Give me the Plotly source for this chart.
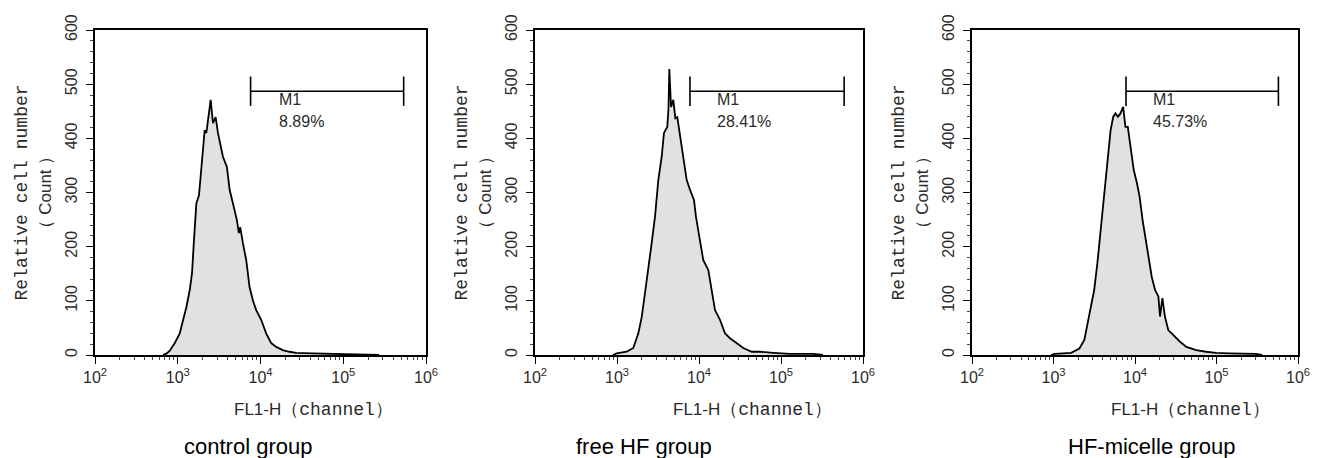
import numpy as np
import plotly.graph_objects as go

# ---------------- data ----------------
groups = ["control group", "free HF group", "HF-micelle group"]
m1_percent = ["8.89%", "28.41%", "45.73%"]

control_fl1 = [665, 736, 801, 920, 1057, 1159, 1274, 1396, 1487, 1571, 1679, 1806, 1930,
               2018, 2115, 2217, 2319, 2498, 2663, 2870, 3061, 3517, 3928, 4236, 4639,
               5180, 5478, 5690, 6120, 6725, 7368, 8075, 8870, 10190, 11710, 13460, 15460,
               18570, 22340, 26900, 42400, 67700, 143600, 271600]
control_count = [0, 3, 8, 22, 40, 65, 89, 120, 151, 212, 280, 295, 342,
                 378, 415, 410, 434, 471, 428, 439, 410, 366, 347, 305, 280,
                 249, 225, 236, 207, 175, 126, 101, 83, 65, 40, 22, 15,
                 9, 6, 4, 3, 2, 1, 0]

freehf_fl1 = [890, 991, 1312, 1581, 1820, 2001, 2194, 2409, 2649, 2905, 3191, 3508, 3741,
              4105, 4246, 4345, 4561, 4864, 5144, 5436, 5980, 6436, 7078, 7766, 8690,
              9190, 10280, 11280, 12980, 14280, 15670, 18030, 20740, 23860, 28820, 34680,
              43930, 55480, 80600, 128800, 247900, 325000]
freehf_count = [0, 3, 6, 13, 40, 70, 114, 157, 207, 255, 323, 366, 410,
                421, 455, 528, 458, 471, 437, 439, 397, 366, 323, 305, 286,
                255, 207, 175, 157, 120, 83, 65, 40, 31, 22, 13,
                6, 6, 4, 2, 2, 0]

micelle_fl1 = [933, 1035, 1644, 2080, 2390, 2746, 3157, 3459, 3795, 4245, 4668, 5020, 5410,
               5770, 6170, 6635, 7155, 7630, 8160, 8775, 9640, 10570, 11400, 12390, 13330,
               14650, 16060, 17620, 19370, 20270, 21670, 23290, 25600, 29420, 35400, 42660,
               56450, 74620, 98600, 142900, 227800, 301400, 363000]
micelle_count = [0, 2, 4, 12, 28, 71, 120, 170, 231, 305, 360, 415, 440,
                 446, 440, 446, 458, 421, 421, 384, 342, 317, 292, 249, 218,
                 181, 144, 120, 108, 71, 105, 71, 46, 37, 25, 15,
                 9, 6, 4, 3, 3, 2, 0]

m1_low = [7590, 7760, 7760]
m1_high = [537000, 589000, 575000]
m1_level = 487
m1_label_x = 15800
m1_label_y = [471, 432]

x_tick_vals = [1e2, 1e3, 1e4, 1e5, 1e6]
x_tick_text = ["10<sup>2</sup>", "10<sup>3</sup>", "10<sup>4</sup>", "10<sup>5</sup>", "10<sup>6</sup>"]
y_tick_vals = [0, 100, 200, 300, 400, 500, 600]

series_x = [control_fl1, freehf_fl1, micelle_fl1]
series_y = [control_count, freehf_count, micelle_count]

# ---------------- layout helpers ----------------
W, H = 1319, 458
OFF = 8  # page body margin in the viewer: convert target page pixels to figure pixels
axis_left_px = [95, 535, 972]
axis_right_px = [426, 863, 1298]
plot_top_px, plot_bottom_px = 30, 355
group_label_cx = [248, 644, 1152]
xtitle_cx = [313, 752, 1190]


def fx(px):
    return (px - OFF) / W


def fy(py):
    return 1 - (py - OFF) / H


SANS = "Liberation Sans, Arial, sans-serif"
MONO = "Liberation Mono, Courier New, monospace"
TXT = "#2a2a2a"

minor_x = [k * 10 ** e for e in range(2, 6) for k in range(2, 10)]
minor_y = [v for v in range(0, 601, 20) if v % 100 != 0]

fig = go.Figure()
layout = dict(width=W, height=H, margin=dict(l=0, r=0, t=0, b=0, pad=0),
              autosize=False, template="none",
              paper_bgcolor="white", plot_bgcolor="white", showlegend=False)

annotations = []
for i in range(3):
    sfx = "" if i == 0 else str(i + 1)
    xa, ya = "x" + sfx, "y" + sfx
    fig.add_trace(go.Scatter(x=series_x[i], y=series_y[i], mode="lines",
                             line=dict(color="black", width=1.8),
                             fill="tozeroy", fillcolor="#e1e1e1",
                             xaxis=xa, yaxis=ya, hoverinfo="skip"))
    # M1 gate bar
    fig.add_trace(go.Scatter(x=[m1_low[i], m1_high[i]], y=[m1_level, m1_level],
                             mode="lines+markers",
                             line=dict(color="black", width=1.4),
                             marker=dict(symbol="line-ns", size=21,
                                         line=dict(color="black", width=1.6)),
                             xaxis=xa, yaxis=ya, hoverinfo="skip"))
    dom_x = [fx(axis_left_px[i]), fx(axis_right_px[i])]
    dom_y = [fy(plot_bottom_px), fy(plot_top_px)]
    layout["xaxis" + sfx] = dict(
        domain=dom_x, anchor=ya, type="log", range=[2, 6], automargin=False,
        tickmode="array", tickvals=x_tick_vals, ticktext=x_tick_text,
        ticks="outside", ticklen=7, tickwidth=1.4, tickcolor="black",
        minor=dict(tickmode="array", tickvals=minor_x, ticks="outside", ticklen=3,
                   tickwidth=1, tickcolor="#444", showgrid=False),
        showline=True, linecolor="black", linewidth=1.8, mirror=True,
        showgrid=False, zeroline=False,
        tickfont=dict(family=SANS, size=16, color=TXT))
    layout["yaxis" + sfx] = dict(
        domain=dom_y, anchor=xa, range=[0, 600], automargin=False,
        tickmode="array", tickvals=y_tick_vals, tickangle=-90, ticklabelstandoff=3,
        ticks="outside", ticklen=7, tickwidth=1.4, tickcolor="black",
        minor=dict(tickmode="array", tickvals=minor_y, ticks="outside", ticklen=3,
                   tickwidth=1, tickcolor="#444", showgrid=False),
        showline=True, linecolor="black", linewidth=1.8, mirror=True,
        showgrid=False, zeroline=False,
        tickfont=dict(family=SANS, size=16, color=TXT))

    # M1 labels
    annotations.append(dict(x=np.log10(m1_label_x), y=m1_label_y[0], xref=xa, yref=ya,
                            text="M1", showarrow=False, xanchor="left", yanchor="middle",
                            font=dict(family=SANS, size=16, color=TXT)))
    annotations.append(dict(x=np.log10(m1_label_x), y=m1_label_y[1], xref=xa, yref=ya,
                            text=m1_percent[i], showarrow=False, xanchor="left", yanchor="middle",
                            font=dict(family=SANS, size=16, color=TXT)))

    cy_px = (plot_top_px + plot_bottom_px) / 2
    # y-axis title (two lines)
    annotations.append(dict(x=fx(axis_left_px[i] - 74), y=fy(cy_px), xref="paper", yref="paper",
                            text="Relative cell number", textangle=-90, showarrow=False,
                            xanchor="center", yanchor="middle",
                            font=dict(family=MONO, size=18, color=TXT)))
    annotations.append(dict(x=fx(axis_left_px[i] - 50), y=fy(cy_px), xref="paper", yref="paper",
                            text="（ Count ）", textangle=-90, showarrow=False,
                            xanchor="center", yanchor="middle",
                            font=dict(family=SANS, size=17, color=TXT)))
    # x-axis title
    annotations.append(dict(x=fx(xtitle_cx[i]), y=fy(410), xref="paper", yref="paper",
                            text="FL1-H<span style='font-family:Liberation Mono, monospace; font-size:18px'>（channel）</span>",
                            showarrow=False, xanchor="center", yanchor="middle",
                            font=dict(family=SANS, size=17, color=TXT)))
    # group label
    annotations.append(dict(x=fx(group_label_cx[i]), y=fy(446), xref="paper", yref="paper",
                            text=groups[i], showarrow=False, xanchor="center", yanchor="middle",
                            font=dict(family=SANS, size=22, color="black")))

layout["annotations"] = annotations
fig.update_layout(**layout)
fig.write_html("out.html")
